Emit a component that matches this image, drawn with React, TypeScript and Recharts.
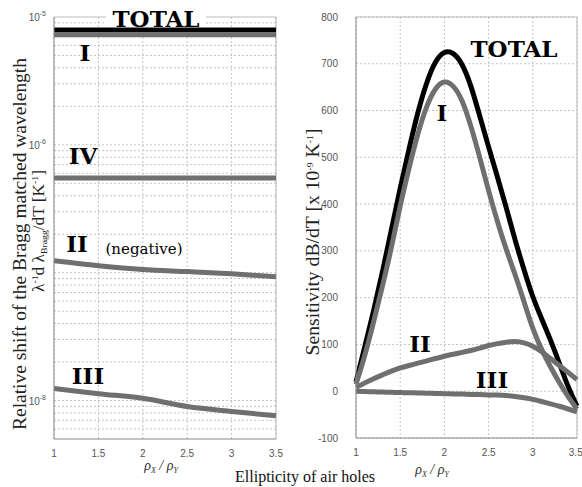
import { LineChart, Line, XAxis, YAxis, CartesianGrid, ReferenceLine } from "recharts";

// shared x axis: ellipticity rho_x / rho_y
const ratioTicks = [1, 1.5, 2, 2.5, 3, 3.5];

// left panel: relative shift of the Bragg wavelength (log scale, K^-1)
const shiftX = [1, 1.5, 2, 2.5, 3, 3.5];
const shiftTotal = [7.9e-6, 7.9e-6, 7.9e-6, 7.9e-6, 7.9e-6, 7.9e-6];
const shiftI = [7.25e-6, 7.25e-6, 7.25e-6, 7.25e-6, 7.25e-6, 7.25e-6];
const shiftIV = [5.5e-7, 5.5e-7, 5.5e-7, 5.5e-7, 5.5e-7, 5.5e-7];
const shiftII = [1.24e-7, 1.135e-7, 1.06e-7, 1.02e-7, 0.98e-7, 0.93e-7];
const shiftIII = [1.24e-8, 1.13e-8, 1.04e-8, 8.97e-9, 8.2e-9, 7.6e-9];
const shiftTicks = [1e-8, 1e-6, 1e-5];

// right panel: sensitivity dB/dT (x 1e-9 K^-1)
const sensX = [1, 1.1, 1.2, 1.3, 1.4, 1.5, 1.6, 1.7, 1.8, 1.9, 2, 2.1, 2.2, 2.3, 2.4, 2.5, 2.6, 2.7, 2.8, 2.9, 3, 3.1, 3.2, 3.3, 3.4, 3.5];
const sensTotal = [20, 95, 172, 255, 345, 435, 518, 598, 662, 708, 728, 725, 702, 655, 588, 522, 458, 393, 322, 260, 200, 155, 110, 60, 8, -32];
const sensI = [15, 75, 148, 225, 305, 398, 478, 552, 612, 650, 665, 655, 625, 568, 500, 428, 362, 302, 250, 192, 132, 88, 52, 18, -12, -38];
const sensII = [8, 18, 27, 35, 43, 50, 55, 60, 65, 70, 75, 79, 83, 87, 92, 98, 102, 105, 107, 104, 97, 85, 70, 55, 40, 25];
const sensIII = [0, -1, -1, -2, -2, -3, -3, -4, -4, -5, -5, -6, -6, -7, -7, -8, -8, -9, -11, -14, -17, -22, -27, -32, -38, -44];
const sensTicks = [-100, 0, 100, 200, 300, 400, 500, 600, 700, 800];

const shiftData = shiftX.map((x, i) => ({
  x,
  total: shiftTotal[i],
  one: shiftI[i],
  four: shiftIV[i],
  two: shiftII[i],
  three: shiftIII[i],
}));

const sensData = sensX.map((x, i) => ({
  x,
  total: sensTotal[i],
  one: sensI[i],
  two: sensII[i],
  three: sensIII[i],
}));

// log minor grid lines
const logGrid: number[] = [];
for (let e = -9; e <= -6; e++) {
  for (let m = 1; m <= 9; m++) {
    const v = m * Math.pow(10, e);
    if (v > 5e-9 && v < 1e-5) logGrid.push(v);
  }
}

const GRAY = "#6f6f6f";
const GRID = "#c4c4c4";
const SANS = "'Liberation Sans', Arial, sans-serif";
const SERIF = "'DejaVu Serif', serif";
const TSERIF = "'Liberation Serif', serif";

const PowTick = (props: any) => {
  const { x, y, payload } = props;
  const exp = Math.round(Math.log10(payload.value));
  return (
    <text x={x} y={y + 4} textAnchor="end" fontSize={10} fill="#555" fontFamily={SANS}>
      10
      <tspan dy={-5} fontSize={7}>
        {exp}
      </tspan>
    </text>
  );
};

const Rho = ({ x, y }: { x: number; y: number }) => (
  <text x={x} y={y} textAnchor="middle" fontSize={14} fill="#333" fontFamily={TSERIF} fontStyle="italic">
    ρ<tspan fontSize={8} dy={3}>X</tspan>
    <tspan dy={-3}> / ρ</tspan>
    <tspan fontSize={8} dy={3}>Y</tspan>
  </text>
);

export default function App() {
  return (
    <div style={{ position: "absolute", left: 0, top: 0, width: 582, height: 487, background: "#fff" }}>
      <div style={{ position: "absolute", left: 0, top: 0 }}>
        <LineChart width={290} height={487} data={shiftData} margin={{ top: 17, right: 14, bottom: 18, left: 14 }}>
          <CartesianGrid stroke={GRID} strokeDasharray="2 2" horizontal={false} verticalValues={ratioTicks} />
          <XAxis
            dataKey="x"
            type="number"
            domain={[1, 3.5]}
            ticks={ratioTicks}
            height={30}
            tickLine={false}
            stroke="#888"
            tick={{ fontSize: 10, fill: "#555", fontFamily: SANS }}
            tickMargin={5}
          />
          <YAxis
            type="number"
            scale="log"
            domain={[5e-9, 1e-5]}
            allowDataOverflow
            ticks={shiftTicks}
            width={40}
            tickLine={false}
            stroke="#888"
            tick={<PowTick />}
          />
          {logGrid.map((v) => (
            <ReferenceLine key={v} y={v} stroke={GRID} strokeDasharray="2 2" />
          ))}
          <ReferenceLine x={3.5} stroke="#bbb" />
          <ReferenceLine y={1e-5} stroke="#bbb" />
          <Line dataKey="total" stroke="#000" strokeWidth={5} dot={false} isAnimationActive={false} />
          <Line dataKey="one" stroke={GRAY} strokeWidth={5} dot={false} isAnimationActive={false} />
          <Line dataKey="four" stroke={GRAY} strokeWidth={5} dot={false} isAnimationActive={false} />
          <Line dataKey="two" type="monotone" stroke={GRAY} strokeWidth={5} dot={false} isAnimationActive={false} />
          <Line dataKey="three" type="monotone" stroke={GRAY} strokeWidth={5} dot={false} isAnimationActive={false} />
        </LineChart>
      </div>
      <div style={{ position: "absolute", left: 290, top: 0 }}>
        <LineChart width={292} height={487} data={sensData} margin={{ top: 17, right: 5, bottom: 19, left: 26 }}>
          <CartesianGrid stroke={GRID} strokeDasharray="2 2" />
          <XAxis
            dataKey="x"
            type="number"
            domain={[1, 3.5]}
            ticks={ratioTicks}
            height={30}
            tickLine={false}
            stroke="#888"
            tick={{ fontSize: 10, fill: "#555", fontFamily: SANS }}
            tickMargin={5}
          />
          <YAxis
            type="number"
            domain={[-100, 800]}
            ticks={sensTicks}
            width={40}
            tickLine={false}
            stroke="#888"
            tick={{ fontSize: 10, fill: "#555", fontFamily: SANS }}
            tickMargin={12}
          />
          <ReferenceLine x={3.5} stroke="#bbb" />
          <ReferenceLine y={800} stroke="#bbb" />
          <Line dataKey="total" type="basis" stroke="#000" strokeWidth={5} dot={false} isAnimationActive={false} />
          <Line dataKey="one" type="basis" stroke={GRAY} strokeWidth={5} dot={false} isAnimationActive={false} />
          <Line dataKey="two" type="basis" stroke={GRAY} strokeWidth={5} dot={false} isAnimationActive={false} />
          <Line dataKey="three" type="basis" stroke={GRAY} strokeWidth={5} dot={false} isAnimationActive={false} />
        </LineChart>
      </div>
      <svg width={582} height={487} style={{ position: "absolute", left: 0, top: 0, pointerEvents: "none" }}>
        {/* left panel labels */}
        <rect x={106} y={4} width={100} height={23} fill="#fff" />
        <text x={156} y={27} textAnchor="middle" fontSize={23} fontWeight="bold" fontFamily={SERIF}>TOTAL</text>
        <text x={85} y={61} textAnchor="middle" fontSize={23} fontWeight="bold" fontFamily={SERIF}>I</text>
        <text x={83} y={164} textAnchor="middle" fontSize={23} fontWeight="bold" fontFamily={SERIF}>IV</text>
        <text x={77} y={252} textAnchor="middle" fontSize={23} fontWeight="bold" fontFamily={SERIF}>II</text>
        <text x={144} y={254} textAnchor="middle" fontSize={15} fontFamily={SERIF}>(negative)</text>
        <text x={88} y={384} textAnchor="middle" fontSize={23} fontWeight="bold" fontFamily={SERIF}>III</text>
        <text
          transform="translate(26,244) rotate(-90)"
          textAnchor="middle"
          fontSize={18}
          fill="#222"
          fontFamily={TSERIF}
          textLength={372}
          lengthAdjust="spacingAndGlyphs"
        >
          Relative shift of the Bragg matched wavelength
        </text>
        <text
          transform="translate(44,231) rotate(-90)"
          textAnchor="middle"
          fontSize={16}
          fill="#222"
          fontFamily={TSERIF}
          textLength={122}
          lengthAdjust="spacingAndGlyphs"
        >
          λ<tspan fontSize={9} dy={-6}>-1</tspan>
          <tspan dy={6}>d λ</tspan>
          <tspan fontSize={9} dy={3}>Bragg</tspan>
          <tspan dy={-3}>/dT [K</tspan>
          <tspan fontSize={9} dy={-6}>-1</tspan>
          <tspan dy={6}>]</tspan>
        </text>
        <Rho x={161} y={470} />
        {/* right panel labels */}
        <text x={514} y={57} textAnchor="middle" fontSize={23} fontWeight="bold" fontFamily={SERIF}>TOTAL</text>
        <text x={442} y={121} textAnchor="middle" fontSize={23} fontWeight="bold" fontFamily={SERIF}>I</text>
        <text x={420} y={352} textAnchor="middle" fontSize={23} fontWeight="bold" fontFamily={SERIF}>II</text>
        <text x={492} y={388} textAnchor="middle" fontSize={23} fontWeight="bold" fontFamily={SERIF}>III</text>
        <text
          transform="translate(319,242) rotate(-90)"
          textAnchor="middle"
          fontSize={18}
          fill="#222"
          fontFamily={TSERIF}
          textLength={227}
          lengthAdjust="spacingAndGlyphs"
        >
          Sensitivity dB/dT [x 10<tspan fontSize={9} dy={-6}>-9</tspan>
          <tspan dy={6}> K</tspan>
          <tspan fontSize={9} dy={-6}>-1</tspan>
          <tspan dy={6}>]</tspan>
        </text>
        <Rho x={432} y={474} />
        <text x={305} y={482} textAnchor="middle" fontSize={16} fill="#111" fontFamily={TSERIF}>
          Ellipticity of air holes
        </text>
      </svg>
    </div>
  );
}
